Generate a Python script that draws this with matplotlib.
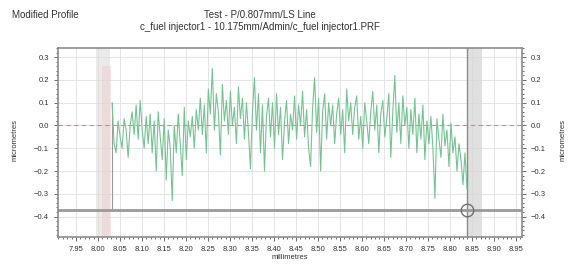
import numpy as np
import matplotlib
matplotlib.use("Agg")
import matplotlib.pyplot as plt
from matplotlib.ticker import MultipleLocator

plt.rcParams['font.family'] = ['Liberation Sans', 'DejaVu Sans']

# profile deviation (micrometres), sampled evenly from start to end of the evaluation length
profile = [
    0.10, -0.08, -0.12, 0.02, -0.05, -0.10, 0.03, -0.02, -0.14, 0.00,
    0.06, -0.04, 0.09, -0.06, 0.11, -0.02, -0.10, 0.04, -0.08, 0.05,
    -0.12, 0.02, -0.20, 0.06, -0.05, -0.15, 0.03, -0.24, -0.02, -0.10,
    -0.33, 0.00, -0.12, 0.05, -0.08, -0.22, 0.08, -0.15, 0.02, -0.05,
    0.04, -0.10, 0.07, -0.02, 0.12, -0.04, 0.09, -0.12, 0.16, 0.05,
    0.25, -0.02, 0.14, 0.06, -0.13, 0.18, 0.02, 0.11, -0.04, 0.15,
    0.00, 0.08, -0.08, 0.17, 0.03, 0.12, -0.06, 0.10, -0.03, -0.19,
    0.06, 0.21, -0.02, 0.14, -0.12, 0.09, -0.20, 0.04, 0.12, -0.05,
    0.10, -0.10, 0.14, -0.04, 0.08, -0.15, 0.02, 0.11, -0.08, 0.05,
    -0.02, 0.13, -0.06, 0.09, 0.00, 0.15, -0.05, 0.07, -0.10, -0.18,
    0.08, 0.21, -0.03, 0.12, -0.20, 0.06, 0.14, -0.06, 0.10, 0.00,
    0.09, -0.08, 0.05, 0.12, -0.04, 0.07, -0.12, 0.16, 0.02, 0.10,
    -0.04, 0.08, 0.13, -0.06, 0.04, -0.10, 0.10, 0.02, -0.08, 0.06,
    0.15, -0.02, 0.09, -0.12, 0.05, 0.11, -0.05, 0.03, 0.14, -0.14,
    0.06, 0.22, -0.03, 0.10, -0.08, 0.13, 0.00, 0.08, -0.10, 0.07,
    -0.04, 0.12, -0.12, 0.05, -0.06, 0.09, -0.15, 0.02, -0.08, 0.04,
    -0.10, -0.32, 0.03, -0.06, -0.14, 0.05, -0.09, -0.02, -0.18, 0.01,
    -0.12, -0.05, -0.20, -0.08, -0.15, -0.26, -0.12, -0.28,
]
x_start = 8.032
x_end = 8.839
baseline = -0.37
left_band = (7.995, 8.027)
right_band = (8.839, 8.872)

x = np.linspace(x_start, x_end, len(profile))

fig = plt.figure(figsize=(5.76, 2.64), dpi=100)
ax = fig.add_axes([0.1007, 0.102, 0.8055, 0.716])

ax.set_xlim(7.909, 8.964)
ax.set_ylim(-0.49, 0.34)

ax.xaxis.set_major_locator(MultipleLocator(0.05))
ax.xaxis.set_minor_locator(MultipleLocator(0.01))
ax.yaxis.set_major_locator(MultipleLocator(0.1))
ax.yaxis.set_minor_locator(MultipleLocator(0.02))
ax.grid(True, which='major', color='#e4e4e4', lw=0.7)
ax.set_axisbelow(True)

ax.axvspan(*left_band, color='#dcdcdc', alpha=0.6, lw=0)
ax.axvspan(8.008, 8.03, ymin=0, ymax=(0.26 + 0.49) / 0.83, color='#f0cdd0', alpha=0.5, lw=0)
ax.axvspan(*right_band, color='#d9d9d9', alpha=0.8, lw=0)
ax.axvline(x_end, color='#8a8a8a', lw=1.0)
ax.plot([x_start, x_start], [baseline, profile[0]], color='#9a9a9a', lw=0.8)

ax.axhline(0, color='#e88080', lw=0.8, ls=(0, (4, 3)))
ax.axhline(baseline, color='#9a9a9a', lw=2.0)

ax.plot(x, profile, color='#74c493', lw=0.8)
ax.plot([x_end], [baseline], marker='o', ms=9, mfc='none', mec='#707070', mew=1.0)

for s in ax.spines.values():
    s.set_color('#8c8c8c')
    s.set_linewidth(1.2)

ax.tick_params(which='both', right=True, labelright=True, colors='#555555',
               labelcolor='#333333', labelsize=5.5, width=0.6)
ax.tick_params(which='major', length=3)
ax.tick_params(which='minor', length=1.5)
ax.set_xticks(np.arange(7.95, 8.951, 0.05))
ax.set_xticklabels([f"{v:.2f}" for v in np.arange(7.95, 8.951, 0.05)])

ax.set_xlabel("millimetres", fontsize=5.5, color='#333333', labelpad=1)
fig.text(0.026, 0.47, "micrometres", rotation=90, fontsize=5.5, color='#333333',
         ha='center', va='center')
fig.text(0.977, 0.47, "micrometres", rotation=90, fontsize=5.5, color='#333333',
         ha='center', va='center')

fig.text(0.021, 0.943, "Modified Profile", fontsize=7, color='#333333', va='center')
fig.text(0.452, 0.943, "Test - P/0.807mm/LS Line", fontsize=7, color='#333333',
         ha='center', va='center')
fig.text(0.452, 0.898, "c_fuel injector1 - 10.175mm/Admin/c_fuel injector1.PRF",
         fontsize=7, color='#333333', ha='center', va='center')

fig.savefig("out.png", dpi=100)
